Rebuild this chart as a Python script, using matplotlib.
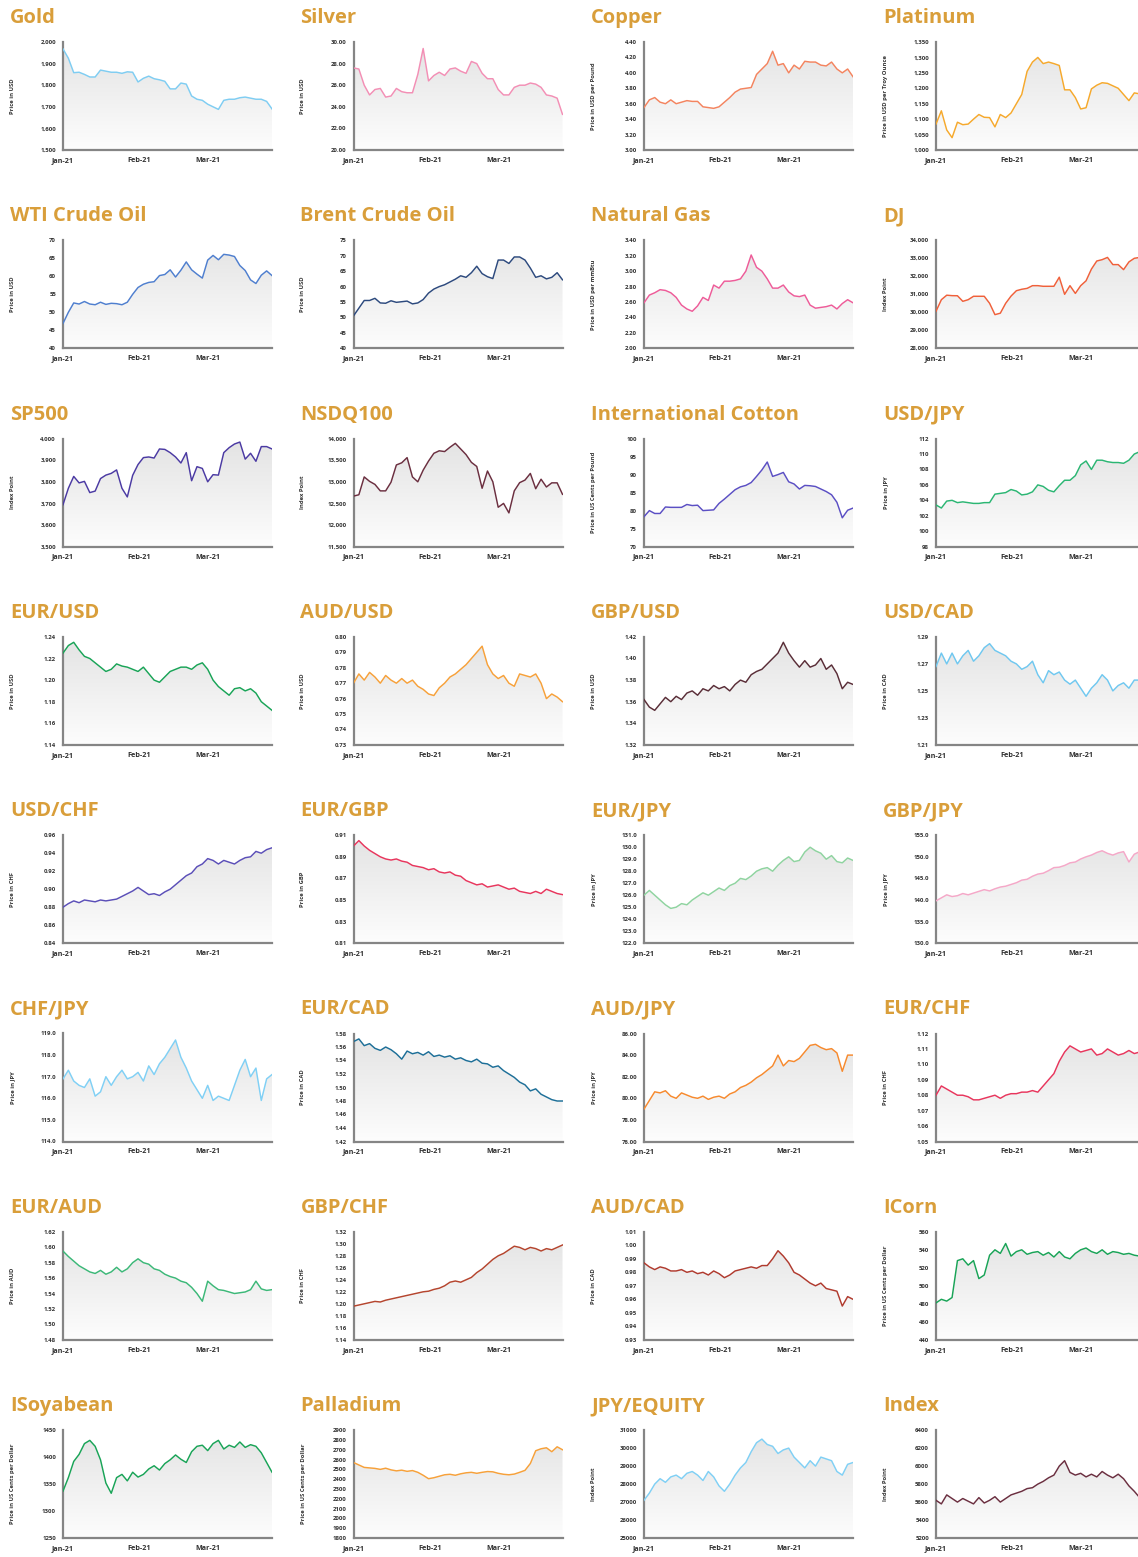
import numpy as np
import pandas as pd
import matplotlib
matplotlib.use('Agg')
import matplotlib.pyplot as plt
import matplotlib.dates as mdates
from matplotlib.colors import LinearSegmentedColormap

plt.rcParams['font.family'] = ['Open Sans', 'DejaVu Sans']

START, END = '2021-01-01', '2021-03-27'

# --- values, evenly spread from START to END ---
gold = [1968, 1925, 1858, 1860, 1850, 1838, 1838, 1870, 1865, 1860, 1860, 1855, 1862, 1860,
        1815, 1832, 1842, 1830, 1825, 1818, 1783, 1783, 1810, 1805, 1750, 1735, 1730, 1712,
        1700, 1688, 1730, 1735, 1735, 1742, 1745, 1740, 1735, 1735, 1725, 1690]
silver = [27.6, 27.5, 26.0, 25.1, 25.6, 25.7, 24.9, 25.0, 25.7, 25.4, 25.3, 25.3, 27.0, 29.4,
          26.4, 26.9, 27.2, 26.9, 27.5, 27.6, 27.3, 27.1, 28.2, 28.0, 27.1, 26.6, 26.6, 25.6,
          25.1, 25.1, 25.8, 26.0, 26.0, 26.2, 26.1, 25.8, 25.1, 25.0, 24.8, 23.3]
copper = [3.55, 3.65, 3.68, 3.62, 3.60, 3.65, 3.60, 3.62, 3.64, 3.63, 3.63, 3.56, 3.55, 3.54,
          3.56, 3.62, 3.68, 3.75, 3.79, 3.80, 3.81, 3.98, 4.05, 4.12, 4.28, 4.10, 4.12, 4.00,
          4.10, 4.05, 4.15, 4.14, 4.14, 4.10, 4.09, 4.14, 4.05, 4.00, 4.05, 3.95]
platinum = [1084, 1127, 1065, 1040, 1090, 1082, 1084, 1100, 1115, 1106, 1105, 1075, 1115, 1105,
            1120, 1150, 1180, 1255, 1285, 1300, 1280, 1285, 1280, 1274, 1195, 1195, 1170, 1133,
            1137, 1198, 1210, 1218, 1216, 1208, 1200, 1180, 1160, 1185, 1182, 1175]
wti = [46.9, 50.0, 52.6, 52.3, 53.0, 52.3, 52.1, 52.8, 52.2, 52.5, 52.4, 52.1, 52.8, 55.0,
       56.9, 57.8, 58.3, 58.5, 60.2, 60.5, 61.8, 59.8, 61.7, 64.0, 61.8, 60.6, 59.5, 64.5,
       65.8, 64.6, 66.1, 65.9, 65.5, 63.0, 61.6, 59.0, 58.0, 60.3, 61.5, 60.2]
brent = [50.5, 53.0, 55.5, 55.5, 56.2, 54.7, 54.6, 55.4, 54.9, 55.1, 55.3, 54.4, 54.7, 55.8,
         57.9, 59.2, 60.0, 60.6, 61.5, 62.4, 63.5, 63.0, 64.5, 66.6, 64.2, 63.2, 62.6, 68.6,
         68.6, 67.5, 69.6, 69.6, 68.6, 66.0, 63.0, 63.5, 62.5, 63.0, 64.5, 62.2]
natgas = [2.59, 2.69, 2.72, 2.76, 2.75, 2.72, 2.66, 2.56, 2.51, 2.48, 2.55, 2.66, 2.62, 2.82,
          2.78, 2.87, 2.87, 2.88, 2.90, 3.00, 3.21, 3.05, 3.00, 2.90, 2.78, 2.78, 2.82, 2.73,
          2.68, 2.67, 2.69, 2.56, 2.52, 2.53, 2.54, 2.56, 2.51, 2.58, 2.63, 2.59]
dj = [30055, 30700, 30950, 30925, 30920, 30610, 30700, 30890, 30890, 30890, 30500, 29870,
      29950, 30500, 30900, 31200, 31280, 31330, 31480, 31480, 31445, 31445, 31445, 31950,
      31000, 31480, 31050, 31480, 31750, 32400, 32850, 32925, 33050, 32650, 32650, 32370,
      32800, 33000, 33050, 33100]
sp500 = [3694, 3770, 3825, 3795, 3802, 3750, 3757, 3815, 3831, 3839, 3855, 3770, 3730, 3830,
         3880, 3912, 3915, 3910, 3952, 3950, 3935, 3915, 3887, 3935, 3805, 3870, 3862, 3800,
         3833, 3831, 3935, 3958, 3975, 3984, 3905, 3932, 3895, 3963, 3963, 3952]
nsdq100 = [12669, 12700, 13113, 13010, 12940, 12790, 12790, 12990, 13390, 13440, 13560, 13113,
           13000, 13270, 13480, 13660, 13718, 13700, 13800, 13890, 13760, 13630, 13450, 13355,
           12850, 13250, 13000, 12411, 12500, 12280, 12790, 12980, 13040, 13194, 12840, 13060,
           12880, 12976, 12976, 12710]
cotton = [78.3, 80.0, 79.2, 79.2, 81.0, 80.9, 80.9, 80.9, 81.7, 81.4, 81.5, 80.0, 80.1, 80.2,
          82.0, 83.2, 84.5, 85.8, 86.6, 87.0, 87.8, 89.5, 91.3, 93.5, 89.5, 90.0, 90.6, 88.0,
          87.4, 86.0, 87.0, 86.9, 86.7, 86.0, 85.3, 84.4, 82.3, 78.0, 80.1, 80.7]
usdjpy = [103.4, 103.0, 103.9, 104.0, 103.7, 103.8, 103.7, 103.6, 103.6, 103.7, 103.7, 104.8,
          104.9, 105.0, 105.4, 105.2, 104.7, 104.8, 105.1, 106.0, 105.8, 105.3, 105.1, 105.9,
          106.6, 106.6, 107.2, 108.6, 109.1, 108.0, 109.2, 109.2, 109.0, 108.9, 108.9, 108.8,
          109.2, 110.0, 110.3, 110.5]
eurusd = [1.225, 1.232, 1.235, 1.228, 1.222, 1.220, 1.216, 1.212, 1.208, 1.210, 1.215, 1.213,
          1.212, 1.210, 1.208, 1.212, 1.206, 1.200, 1.198, 1.203, 1.208, 1.210, 1.212, 1.212,
          1.210, 1.214, 1.216, 1.210, 1.200, 1.194, 1.190, 1.186, 1.192, 1.193, 1.190, 1.192,
          1.188, 1.180, 1.176, 1.172]
audusd = [0.770, 0.776, 0.772, 0.777, 0.774, 0.770, 0.775, 0.772, 0.770, 0.773, 0.770, 0.772,
          0.768, 0.766, 0.763, 0.762, 0.767, 0.770, 0.774, 0.776, 0.779, 0.782, 0.786, 0.790,
          0.794, 0.782, 0.776, 0.773, 0.775, 0.770, 0.768, 0.776, 0.775, 0.774, 0.776, 0.770,
          0.760, 0.763, 0.761, 0.758]
gbpusd = [1.362, 1.355, 1.352, 1.358, 1.364, 1.360, 1.365, 1.362, 1.368, 1.370, 1.366, 1.372,
          1.370, 1.375, 1.372, 1.374, 1.370, 1.376, 1.380, 1.378, 1.385, 1.388, 1.390, 1.395,
          1.400, 1.405, 1.415, 1.405, 1.398, 1.392, 1.398, 1.392, 1.394, 1.400, 1.390, 1.394,
          1.386, 1.372, 1.378, 1.376]
usdcad = [1.268, 1.278, 1.270, 1.278, 1.270, 1.276, 1.280, 1.272, 1.276, 1.282, 1.285, 1.280,
          1.278, 1.276, 1.272, 1.270, 1.266, 1.268, 1.272, 1.262, 1.256, 1.265, 1.262, 1.264,
          1.258, 1.255, 1.258, 1.252, 1.246, 1.252, 1.256, 1.262, 1.258, 1.250, 1.254, 1.256,
          1.252, 1.258, 1.258, 1.256]
usdchf = [0.880, 0.884, 0.887, 0.885, 0.888, 0.887, 0.886, 0.888, 0.887, 0.888, 0.889, 0.892,
          0.895, 0.898, 0.902, 0.898, 0.894, 0.895, 0.893, 0.897, 0.900, 0.905, 0.910, 0.915,
          0.918, 0.925, 0.928, 0.934, 0.932, 0.928, 0.932, 0.930, 0.928, 0.932, 0.935, 0.936,
          0.942, 0.940, 0.944, 0.946]
eurgbp = [0.900, 0.905, 0.900, 0.896, 0.893, 0.890, 0.888, 0.887, 0.888, 0.886, 0.885, 0.882,
          0.881, 0.880, 0.878, 0.879, 0.876, 0.875, 0.876, 0.873, 0.872, 0.868, 0.866, 0.864,
          0.865, 0.862, 0.863, 0.864, 0.862, 0.860, 0.861, 0.858, 0.857, 0.856, 0.858, 0.856,
          0.860, 0.858, 0.856, 0.855]
eurjpy = [126.0, 126.4, 126.0, 125.6, 125.2, 124.9, 125.0, 125.3, 125.2, 125.6, 125.9, 126.2,
          126.0, 126.3, 126.6, 126.4, 126.8, 127.0, 127.4, 127.3, 127.6, 128.0, 128.2, 128.3,
          128.0, 128.5, 128.9, 129.2, 128.8, 128.9, 129.6, 130.0, 129.7, 129.5, 129.0, 129.3,
          128.8, 128.7, 129.1, 128.9]
gbpjpy = [139.8, 140.5, 141.2, 140.8, 141.0, 141.5, 141.2, 141.6, 142.0, 142.4, 142.1, 142.6,
          143.0, 143.2, 143.6, 144.0, 144.6, 144.8, 145.5, 146.0, 146.2, 146.8, 147.5, 147.6,
          148.0, 148.6, 148.8, 149.5, 150.0, 150.4, 151.0, 151.4, 150.8, 150.4, 150.9, 151.2,
          148.8, 150.6, 151.2, 151.0]
chfjpy = [116.9, 117.3, 116.8, 116.6, 116.5, 116.9, 116.1, 116.3, 117.0, 116.6, 117.0, 117.3,
          116.9, 117.0, 117.2, 116.8, 117.5, 117.1, 117.6, 117.9, 118.3, 118.7, 117.9, 117.4,
          116.8, 116.4, 116.0, 116.6, 115.9, 116.1, 116.0, 115.9, 116.6, 117.3, 117.8, 117.0,
          117.4, 115.9, 116.9, 117.1]
eurcad = [1.568, 1.572, 1.562, 1.565, 1.558, 1.555, 1.560, 1.556, 1.550, 1.542, 1.554, 1.550,
          1.552, 1.548, 1.553, 1.546, 1.548, 1.545, 1.547, 1.542, 1.544, 1.540, 1.538, 1.542,
          1.536, 1.535, 1.530, 1.532, 1.525, 1.520, 1.515, 1.508, 1.504, 1.495, 1.498, 1.490,
          1.486, 1.482, 1.480, 1.480]
audjpy = [79.0, 79.8, 80.6, 80.5, 80.7, 80.2, 80.0, 80.5, 80.3, 80.1, 80.0, 80.2, 79.9, 80.1,
          80.2, 80.0, 80.4, 80.6, 81.0, 81.2, 81.5, 81.9, 82.2, 82.6, 83.0, 84.0, 83.0, 83.5,
          83.4, 83.7, 84.3, 84.9, 85.0, 84.7, 84.5, 84.6, 84.2, 82.5, 84.0, 84.0]
eurchf = [1.080, 1.086, 1.084, 1.082, 1.080, 1.080, 1.079, 1.077, 1.077, 1.078, 1.079, 1.080,
          1.078, 1.080, 1.081, 1.081, 1.082, 1.082, 1.083, 1.082, 1.086, 1.090, 1.094, 1.102,
          1.108, 1.112, 1.110, 1.108, 1.109, 1.110, 1.106, 1.107, 1.110, 1.108, 1.106, 1.107,
          1.109, 1.107, 1.108, 1.108]
euraud = [1.595, 1.588, 1.582, 1.576, 1.572, 1.568, 1.566, 1.570, 1.565, 1.568, 1.574, 1.568,
          1.572, 1.580, 1.585, 1.580, 1.578, 1.572, 1.570, 1.565, 1.562, 1.560, 1.556, 1.554,
          1.548, 1.540, 1.530, 1.556, 1.550, 1.545, 1.544, 1.542, 1.540, 1.541, 1.542, 1.545,
          1.556, 1.546, 1.544, 1.545]
gbpchf = [1.196, 1.198, 1.200, 1.202, 1.204, 1.203, 1.206, 1.208, 1.210, 1.212, 1.214, 1.216,
          1.218, 1.220, 1.221, 1.224, 1.226, 1.230, 1.236, 1.238, 1.236, 1.240, 1.244, 1.252,
          1.258, 1.266, 1.274, 1.280, 1.284, 1.290, 1.296, 1.294, 1.290, 1.294, 1.292, 1.288,
          1.292, 1.290, 1.294, 1.298]
audcad = [0.987, 0.984, 0.982, 0.984, 0.983, 0.981, 0.981, 0.982, 0.980, 0.981, 0.979, 0.980,
          0.978, 0.981, 0.979, 0.976, 0.978, 0.981, 0.982, 0.983, 0.984, 0.983, 0.985, 0.985,
          0.990, 0.996, 0.992, 0.987, 0.980, 0.978, 0.975, 0.972, 0.970, 0.972, 0.968, 0.967,
          0.966, 0.955, 0.962, 0.960]
icorn = [481, 485, 483, 487, 528, 530, 523, 528, 508, 512, 534, 540, 536, 547, 533, 538, 540,
         535, 537, 538, 534, 537, 532, 538, 532, 530, 536, 540, 542, 538, 536, 540, 535, 538,
         537, 535, 536, 534, 533, 535]
isoyabean = [1337, 1362, 1392, 1405, 1425, 1431, 1420, 1395, 1352, 1333, 1362, 1368, 1356, 1372,
             1363, 1368, 1378, 1384, 1376, 1388, 1395, 1404, 1396, 1390, 1410, 1420, 1422, 1412,
             1425, 1431, 1415, 1422, 1418, 1428, 1418, 1423, 1420, 1408, 1390, 1372]
palladium = [2570, 2545, 2520, 2515, 2510, 2500, 2512, 2495, 2485, 2492, 2480, 2488, 2470, 2440,
             2405, 2415, 2430, 2445, 2450, 2440, 2455, 2465, 2470, 2460, 2470, 2478, 2475, 2460,
             2450, 2445, 2452, 2470, 2490, 2560, 2690, 2710, 2720, 2680, 2730, 2700]
jpy_equity = [27100, 27500, 28000, 28300, 28100, 28400, 28500, 28300, 28600, 28700, 28500, 28200,
              28700, 28400, 27900, 27600, 28000, 28500, 28900, 29200, 29800, 30300, 30500, 30200,
              30100, 29700, 29900, 30000, 29500, 29200, 28900, 29300, 29000, 29500, 29400, 29300,
              28700, 28500, 29100, 29200]
index_pts = [5620, 5580, 5680, 5640, 5600, 5640, 5610, 5580, 5650, 5590, 5620, 5660, 5600, 5640,
             5680, 5700, 5720, 5750, 5760, 5800, 5830, 5870, 5900, 6000, 6060, 5930, 5900, 5920,
             5880, 5910, 5880, 5940, 5900, 5870, 5910, 5860, 5780, 5720, 5650, 5600]

# (title, y-label, series, y ticks, tick format)
PANELS = [
    ('Gold', 'Price in USD', gold, [1500, 1600, 1700, 1800, 1900, 2000], '{:,.0f}'),
    ('Silver', 'Price in USD', silver, [20, 22, 24, 26, 28, 30], '{:.2f}'),
    ('Copper', 'Price in USD per Pound', copper, [3.0, 3.2, 3.4, 3.6, 3.8, 4.0, 4.2, 4.4], '{:.2f}'),
    ('Platinum', 'Price in USD per Troy Ounce', platinum,
     [1000, 1050, 1100, 1150, 1200, 1250, 1300, 1350], '{:,.0f}'),
    ('WTI Crude Oil', 'Price in USD', wti, [40, 45, 50, 55, 60, 65, 70], '{:.0f}'),
    ('Brent Crude Oil', 'Price in USD', brent, [40, 45, 50, 55, 60, 65, 70, 75], '{:.0f}'),
    ('Natural Gas', 'Price in USD per mmBtu', natgas,
     [2.0, 2.2, 2.4, 2.6, 2.8, 3.0, 3.2, 3.4], '{:.2f}'),
    ('DJ', 'Index Point', dj, [28000, 29000, 30000, 31000, 32000, 33000, 34000], '{:,.0f}'),
    ('SP500', 'Index Point', sp500, [3500, 3600, 3700, 3800, 3900, 4000], '{:,.0f}'),
    ('NSDQ100', 'Index Point', nsdq100, [11500, 12000, 12500, 13000, 13500, 14000], '{:,.0f}'),
    ('International Cotton', 'Price in US Cents per Pound', cotton,
     [70, 75, 80, 85, 90, 95, 100], '{:.0f}'),
    ('USD/JPY', 'Price in JPY', usdjpy, [98, 100, 102, 104, 106, 108, 110, 112], '{:.0f}'),
    ('EUR/USD', 'Price in USD', eurusd, [1.14, 1.16, 1.18, 1.20, 1.22, 1.24], '{:.2f}'),
    ('AUD/USD', 'Price in USD', audusd,
     [0.73, 0.74, 0.75, 0.76, 0.77, 0.78, 0.79, 0.80], '{:.2f}'),
    ('GBP/USD', 'Price in USD', gbpusd, [1.32, 1.34, 1.36, 1.38, 1.40, 1.42], '{:.2f}'),
    ('USD/CAD', 'Price in CAD', usdcad, [1.21, 1.23, 1.25, 1.27, 1.29], '{:.2f}'),
    ('USD/CHF', 'Price in CHF', usdchf, [0.84, 0.86, 0.88, 0.90, 0.92, 0.94, 0.96], '{:.2f}'),
    ('EUR/GBP', 'Price in GBP', eurgbp, [0.81, 0.83, 0.85, 0.87, 0.89, 0.91], '{:.2f}'),
    ('EUR/JPY', 'Price in JPY', eurjpy,
     [122, 123, 124, 125, 126, 127, 128, 129, 130, 131], '{:.1f}'),
    ('GBP/JPY', 'Price in JPY', gbpjpy, [130, 135, 140, 145, 150, 155], '{:.1f}'),
    ('CHF/JPY', 'Price in JPY', chfjpy, [114, 115, 116, 117, 118, 119], '{:.1f}'),
    ('EUR/CAD', 'Price in CAD', eurcad,
     [1.42, 1.44, 1.46, 1.48, 1.50, 1.52, 1.54, 1.56, 1.58], '{:.2f}'),
    ('AUD/JPY', 'Price in JPY', audjpy, [76, 78, 80, 82, 84, 86], '{:.2f}'),
    ('EUR/CHF', 'Price in CHF', eurchf,
     [1.05, 1.06, 1.07, 1.08, 1.09, 1.10, 1.11, 1.12], '{:.2f}'),
    ('EUR/AUD', 'Price in AUD', euraud,
     [1.48, 1.50, 1.52, 1.54, 1.56, 1.58, 1.60, 1.62], '{:.2f}'),
    ('GBP/CHF', 'Price in CHF', gbpchf,
     [1.14, 1.16, 1.18, 1.20, 1.22, 1.24, 1.26, 1.28, 1.30, 1.32], '{:.2f}'),
    ('AUD/CAD', 'Price in CAD', audcad,
     [0.93, 0.94, 0.95, 0.96, 0.97, 0.98, 0.99, 1.00, 1.01], '{:.2f}'),
    ('ICorn', 'Price in US Cents per Dollar', icorn,
     [440, 460, 480, 500, 520, 540, 560], '{:.0f}'),
    ('ISoyabean', 'Price in US Cents per Dollar', isoyabean,
     [1250, 1300, 1350, 1400, 1450], '{:.0f}'),
    ('Palladium', 'Price in US Cents per Dollar', palladium,
     [1800, 1900, 2000, 2100, 2200, 2300, 2400, 2500, 2600, 2700, 2800, 2900], '{:.0f}'),
    ('JPY/EQUITY', 'Index Point', jpy_equity,
     [25000, 26000, 27000, 28000, 29000, 30000, 31000], '{:.0f}'),
    ('Index', 'Index Point', index_pts, [5200, 5400, 5600, 5800, 6000, 6200, 6400], '{:.0f}'),
]

LINE_COLORS = ['#7fcdf2', '#f38fb5', '#f4845f', '#f6a92c',
               '#4f7fcf', '#2d4a7e', '#ee5c99', '#f0603a',
               '#4b3aa3', '#6b2f40', '#5b4fc4', '#2bb673',
               '#19a457', '#f7a13a', '#5a2e38', '#70c8f0',
               '#5b4fb8', '#e8365d', '#8fd4a0', '#f5a8c8',
               '#80d0f5', '#1d6f98', '#f78a2e', '#e8365d',
               '#3cb878', '#b5452e', '#b03a2e', '#19a457',
               '#19a457', '#f7a13a', '#80d0f5', '#6b2f40']

# --- page geometry in pixels (figure is 1138 x 1557 at 100 dpi) ---
W, H = 1138, 1557
AX_W, AX_H = 209, 108
COL_X = [63, 353.5, 644, 936]
ROW_Y0, ROW_DY = 42, 198.3
TITLE_COLOR = '#d99e3a'
FADE = LinearSegmentedColormap.from_list('fade', ['#fdfdfd', '#e3e3e3'])

fig = plt.figure(figsize=(W / 100, H / 100), dpi=100)
fig.patch.set_facecolor('white')
t0, t1 = pd.Timestamp(START), pd.Timestamp(END)
grad = np.linspace(0, 1, 256).reshape(-1, 1)

for i, (title, ylab, vals, ticks, fmt) in enumerate(PANELS):
    r, c = divmod(i, 4)
    top = ROW_Y0 + r * ROW_DY
    ax = fig.add_axes([COL_X[c] / W, 1 - (top + AX_H) / H, AX_W / W, AX_H / H])
    lo, hi = ticks[0], ticks[-1]
    x = pd.date_range(t0, t1, periods=len(vals))
    y = np.asarray(vals, dtype=float)

    # grey gradient under the line, clipped to the filled area
    coll = ax.fill_between(x, y, lo, facecolor='none', edgecolor='none')
    xn = mdates.date2num(x)
    im = ax.imshow(grad, extent=(xn[0], xn[-1], lo, hi), origin='lower',
                   aspect='auto', cmap=FADE, zorder=1, interpolation='bilinear')
    im.set_clip_path(coll.get_paths()[0], transform=ax.transData)
    ax.plot(x, y, color=LINE_COLORS[i], lw=1.05, zorder=3, solid_joinstyle='round')

    ax.set_xlim(t0, t1)
    ax.set_ylim(lo, hi)
    ax.set_yticks(ticks)
    ax.set_yticklabels([fmt.format(t) for t in ticks])
    ax.xaxis.set_major_locator(mdates.MonthLocator())
    ax.xaxis.set_major_formatter(mdates.DateFormatter('%b-%y'))
    ax.set_facecolor('none')
    for s in ('top', 'right'):
        ax.spines[s].set_visible(False)
    for s in ('left', 'bottom'):
        ax.spines[s].set_color('#858585')
        ax.spines[s].set_linewidth(1.6)
    ax.tick_params(axis='y', length=0, pad=5, labelsize=4.3, labelcolor='#333333')
    ax.tick_params(axis='x', length=0, pad=5, labelsize=5.2, labelcolor='#333333')
    for lab in ax.get_xticklabels() + ax.get_yticklabels():
        lab.set_fontweight('bold')
    ax.set_ylabel(ylab, fontsize=4.2, fontweight='bold', color='#333333')
    ax.yaxis.set_label_coords(-48 / AX_W, 0.5)

    fig.text((COL_X[c] - 53) / W, 1 - (top - 24) / H, title, ha='left', va='center',
             fontsize=14.5, fontweight='bold', color=TITLE_COLOR)

fig.savefig('out.png', dpi=100, facecolor='white')
